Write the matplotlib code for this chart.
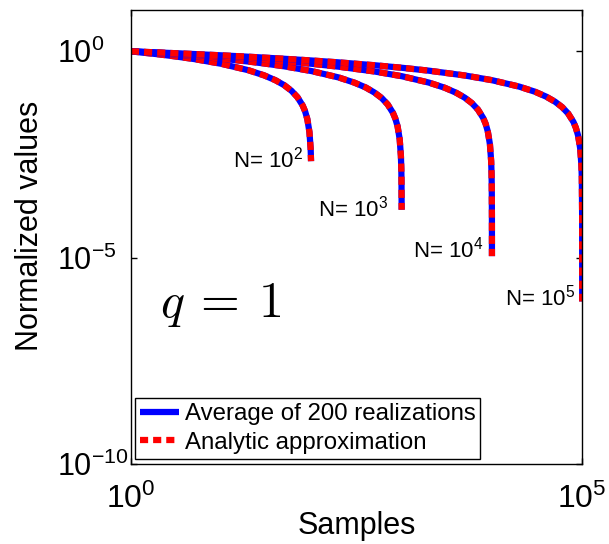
import numpy as np
import matplotlib
matplotlib.use('Agg')
import matplotlib.pyplot as plt

plt.rcParams['font.family'] = ['Liberation Sans', 'DejaVu Sans']
plt.rcParams['mathtext.fontset'] = 'custom'
plt.rcParams['mathtext.rm'] = 'Liberation Sans'
plt.rcParams['mathtext.it'] = 'Liberation Sans:italic'

# values (x = samples, y = normalized value)
samples_1e2 = [1, 2, 3, 5, 10, 20, 30, 40, 50, 60, 70, 80, 85, 90, 95, 98, 99]
values_1e2 = [1.0, 0.849, 0.761, 0.651, 0.5, 0.349, 0.261, 0.199, 0.151, 0.111,
              0.0775, 0.0485, 0.0353, 0.0229, 0.0111, 0.00439, 0.00218]

samples_1e3 = [1, 2, 3, 5, 10, 20, 30, 50, 100, 200, 300, 400, 500, 600, 700,
               800, 850, 900, 950, 980, 990, 995, 999]
values_1e3 = [1.0, 0.900, 0.841, 0.767, 0.667, 0.566, 0.508, 0.434, 0.333, 0.233,
              0.174, 0.133, 0.100, 0.074, 0.0516, 0.0323, 0.0235, 0.0153, 0.00743,
              0.00292, 0.00146, 0.000726, 0.000145]

samples_1e4 = [1, 2, 5, 10, 20, 50, 100, 200, 500, 1000, 2000, 3000, 4000, 5000,
               6000, 7000, 8000, 8500, 9000, 9500, 9800, 9900, 9950, 9990, 9999]
values_1e4 = [1.0, 0.925, 0.825, 0.75, 0.675, 0.575, 0.5, 0.425, 0.325, 0.25,
              0.175, 0.131, 0.0995, 0.0753, 0.0555, 0.0387, 0.0242, 0.0177, 0.0114,
              0.00557, 0.00219, 0.00109, 0.000543, 0.000109, 1.09e-5]

samples_1e5 = [1, 2, 5, 10, 20, 50, 100, 200, 500, 1000, 2000, 5000, 10000, 20000,
               30000, 40000, 50000, 60000, 70000, 80000, 85000, 90000, 95000, 98000,
               99000, 99900, 99999]
values_1e5 = [1.0, 0.940, 0.860, 0.8, 0.740, 0.660, 0.6, 0.540, 0.460, 0.4, 0.340,
              0.260, 0.2, 0.140, 0.105, 0.0796, 0.0602, 0.0444, 0.0310, 0.0194,
              0.0141, 0.00915, 0.00446, 0.00175, 0.000873, 8.69e-5, 8.69e-7]

curves = [(samples_1e2, values_1e2), (samples_1e3, values_1e3),
          (samples_1e4, values_1e4), (samples_1e5, values_1e5)]

# curve labels: (text, x of right edge, y centre)
curve_labels = [(r'N= $10^2$', 80, 2.4e-3), (r'N= $10^3$', 708, 1.55e-4),
                (r'N= $10^4$', 7943, 1.55e-5), (r'N= $10^5$', 83600, 1.07e-6)]

fig = plt.figure(figsize=(6.09, 5.44), dpi=100)
ax = fig.add_axes([0.215, 0.147, 0.741, 0.8345])

for i, (xs, ys) in enumerate(curves):
    ax.plot(xs, ys, color='blue', lw=4.5, solid_capstyle='butt',
            label='Average of 200 realizations' if i == 0 else None)
    ax.plot(xs, ys, color='red', lw=4.5, linestyle=(0, (1.3, 0.8)),
            dash_capstyle='butt',
            label='Analytic approximation' if i == 0 else None)

for txt, x, y in curve_labels:
    ax.text(x, y, txt, ha='right', va='center', fontsize=16)

ax.text(2.1, 3.7e-7, r'$q\:=\:1$', fontsize=36, math_fontfamily='cm')

ax.set_xscale('log')
ax.set_yscale('log')
ax.set_xlim(1, 1e5)
ax.set_ylim(1e-10, 1e1)
ax.set_xticks([1, 1e5])
ax.set_xticklabels([r'$10^0$', r'$10^5$'])
ax.set_yticks([1e-10, 1e-5, 1])
ax.set_yticklabels([r'$10^{-10}$', r'$10^{-5}$', r'$10^0$'])
ax.minorticks_off()
ax.tick_params(direction='in', length=4, width=1, labelsize=22,
               top=True, right=True)
ax.tick_params(axis='x', pad=14, labelsize=23)
ax.tick_params(axis='y', pad=53)
for lab in ax.get_yticklabels():
    lab.set_horizontalalignment('left')

for sp in ax.spines.values():
    sp.set_linewidth(1.0)

ax.set_xlabel('Samples', fontsize=22)
ax.set_ylabel('Normalized values', fontsize=22)
ax.xaxis.set_label_coords(0.5, -0.104)
ax.yaxis.set_label_coords(-0.19, 0.524)

leg = ax.legend(loc='lower left', bbox_to_anchor=(0.01, 0.012), fontsize=17.3,
                handlelength=1.6, handletextpad=0.25, labelspacing=0.28,
                borderpad=0.2, borderaxespad=0, fancybox=False,
                framealpha=1, edgecolor='black')
leg.get_frame().set_linewidth(1.0)

fig.savefig('out.png', dpi=100)
